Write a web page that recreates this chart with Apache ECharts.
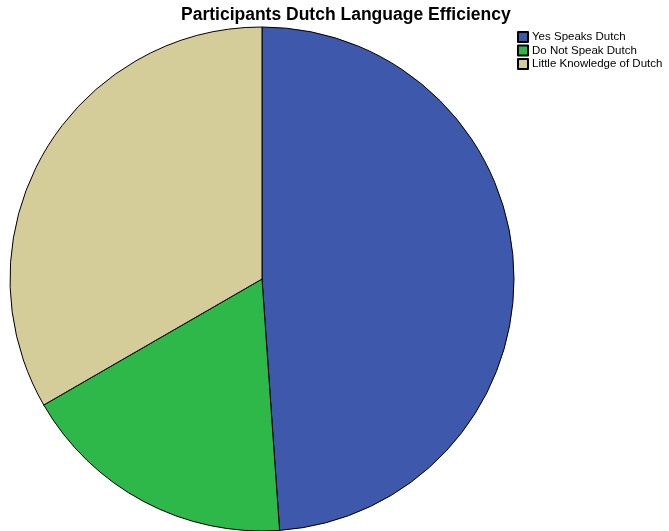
<!DOCTYPE html>
<html><head><meta charset="utf-8">
<script src="https://cdn.jsdelivr.net/npm/echarts@6/dist/echarts.min.js"></script>
<style>html,body{margin:0;padding:0;background:#fff}#c{width:669px;height:531px}</style>
</head><body><div id="c"></div>
<script>
const categories = ["Yes Speaks Dutch", "Do Not Speak Dutch", "Little Knowledge of Dutch"];
const counts = [22, 8, 15];
const colors = ["#3e58ab", "#2eb84a", "#d4cd9a"];
const chart = echarts.init(document.getElementById('c'), null, {renderer: 'canvas'});
chart.setOption({
  animation: false,
  title: {
    text: "Participants Dutch Language Efficiency",
    left: 176, top: 1,
    textStyle: {fontFamily: "Liberation Sans, Arial", fontSize: 17.5, fontWeight: "bold", color: "#000"}
  },
  legend: {
    orient: "vertical", left: 512, top: 26,
    itemWidth: 10, itemHeight: 10, itemGap: 1.5,
    icon: "rect",
    data: categories,
    textStyle: {fontFamily: "Liberation Sans, Arial", fontSize: 11.5, color: "#000", padding: [0,0,0,-1]}
  },
  series: [{
    type: "pie",
    center: [262, 279],
    radius: [0, 252],
    startAngle: 90,
    clockwise: true,
    label: {show: false},
    labelLine: {show: false},
    emphasis: {disabled: true},
    itemStyle: {borderColor: "#000", borderWidth: 1},
    data: categories.map((n, i) => ({name: n, value: counts[i], itemStyle: {color: colors[i]}}))
  }]
});
</script></body></html>
